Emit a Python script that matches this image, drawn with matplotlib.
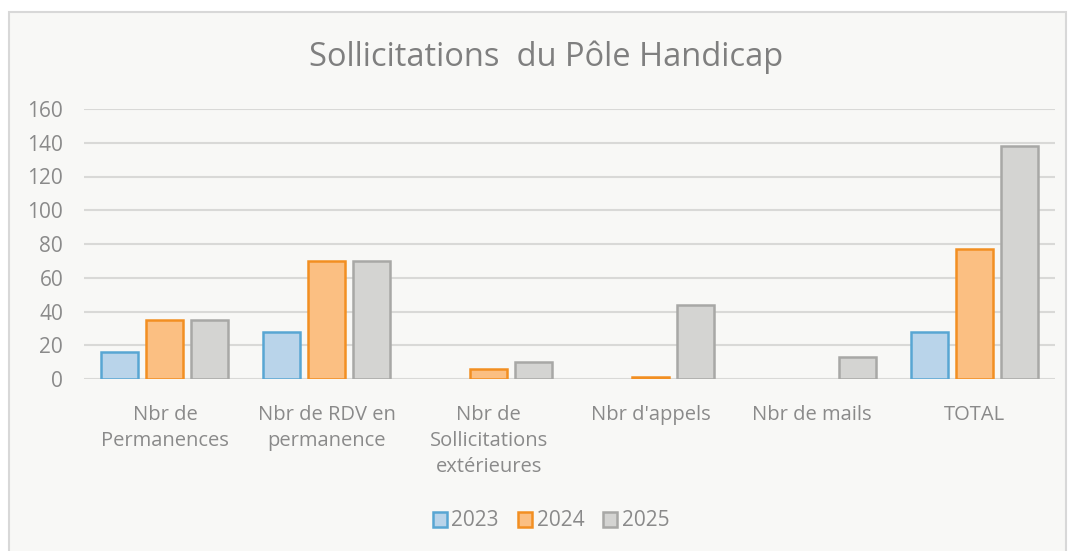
import matplotlib
import matplotlib.pyplot as plt
import numpy as np
from matplotlib.patches import Rectangle

matplotlib.use("Agg")

categories = ["Nbr de\nPermanences", "Nbr de RDV en\npermanence",
              "Nbr de\nSollicitations\nextérieures", "Nbr d'appels",
              "Nbr de mails", "TOTAL"]
years = ["2023", "2024", "2025"]
values_2023 = [16, 28, 0, 0, 0, 28]
values_2024 = [35, 70, 6, 1, 0, 77]
values_2025 = [35, 70, 10, 44, 13, 138]
y_ticks = [0, 20, 40, 60, 80, 100, 120, 140, 160]

fills = ["#b9d4ea", "#fbbf82", "#d4d4d2"]
edges = ["#58a6d3", "#f28f22", "#a8a8a6"]
text_grey = "#8a8a8a"

plt.rcParams['font.family'] = ['Open Sans', 'DejaVu Sans']

fig = plt.figure(figsize=(10.72, 5.51), dpi=100, facecolor="white")

# chart area box, kept behind the axes
fig.patches.append(Rectangle((9 / 1072, -0.01), 1057 / 1072, 1 - 12 / 551 + 0.01,
                             transform=fig.transFigure, facecolor="#f8f8f6",
                             edgecolor="#d8d8d8", linewidth=1.5, zorder=-5))

ax = fig.add_axes([84 / 1072, 1 - 379 / 551, 971 / 1072, 270 / 551])
ax.set_facecolor("none")

x = np.arange(len(categories))
width = 0.228
step = 0.278
for i, vals in enumerate([values_2023, values_2024, values_2025]):
    # zero values draw nothing, as in Excel
    lw = [1.8 if v > 0 else 0 for v in vals]
    ax.bar(x + (i - 1) * step, vals, width, color=fills[i], edgecolor=edges[i],
           linewidth=lw, label=years[i], zorder=3)

ax.set_xlim(-0.5, len(categories) - 0.5)
ax.set_ylim(0, 160)
ax.set_yticks(y_ticks)
ax.yaxis.grid(True, color="#d9d9d7", linewidth=1.5, zorder=0)
ax.set_axisbelow(True)
for s in ax.spines.values():
    s.set_visible(False)
ax.tick_params(axis='both', length=0, colors=text_grey)
ax.tick_params(axis='y', pad=15, labelsize=15)
ax.tick_params(axis='x', pad=19)
ax.set_xticks(x)
ax.set_xticklabels(categories, fontsize=14.5, linespacing=1.4, va="top")

fig.text(546 / 1072, 1 - 57 / 551, "Sollicitations  du Pôle Handicap",
         ha="center", va="center", fontsize=23.5, color="#7f7f7f")

leg = ax.legend(loc="center", bbox_to_anchor=(551 / 1072, 1 - 521 / 551),
                bbox_transform=fig.transFigure, ncol=3, frameon=False, fontsize=15,
                handlelength=0.7, handleheight=0.7, handletextpad=0.2,
                columnspacing=0.9, labelcolor=text_grey)
for h in leg.legend_handles:
    h.set_linewidth(1.8)

fig.savefig("out.png", dpi=100, facecolor="white")
